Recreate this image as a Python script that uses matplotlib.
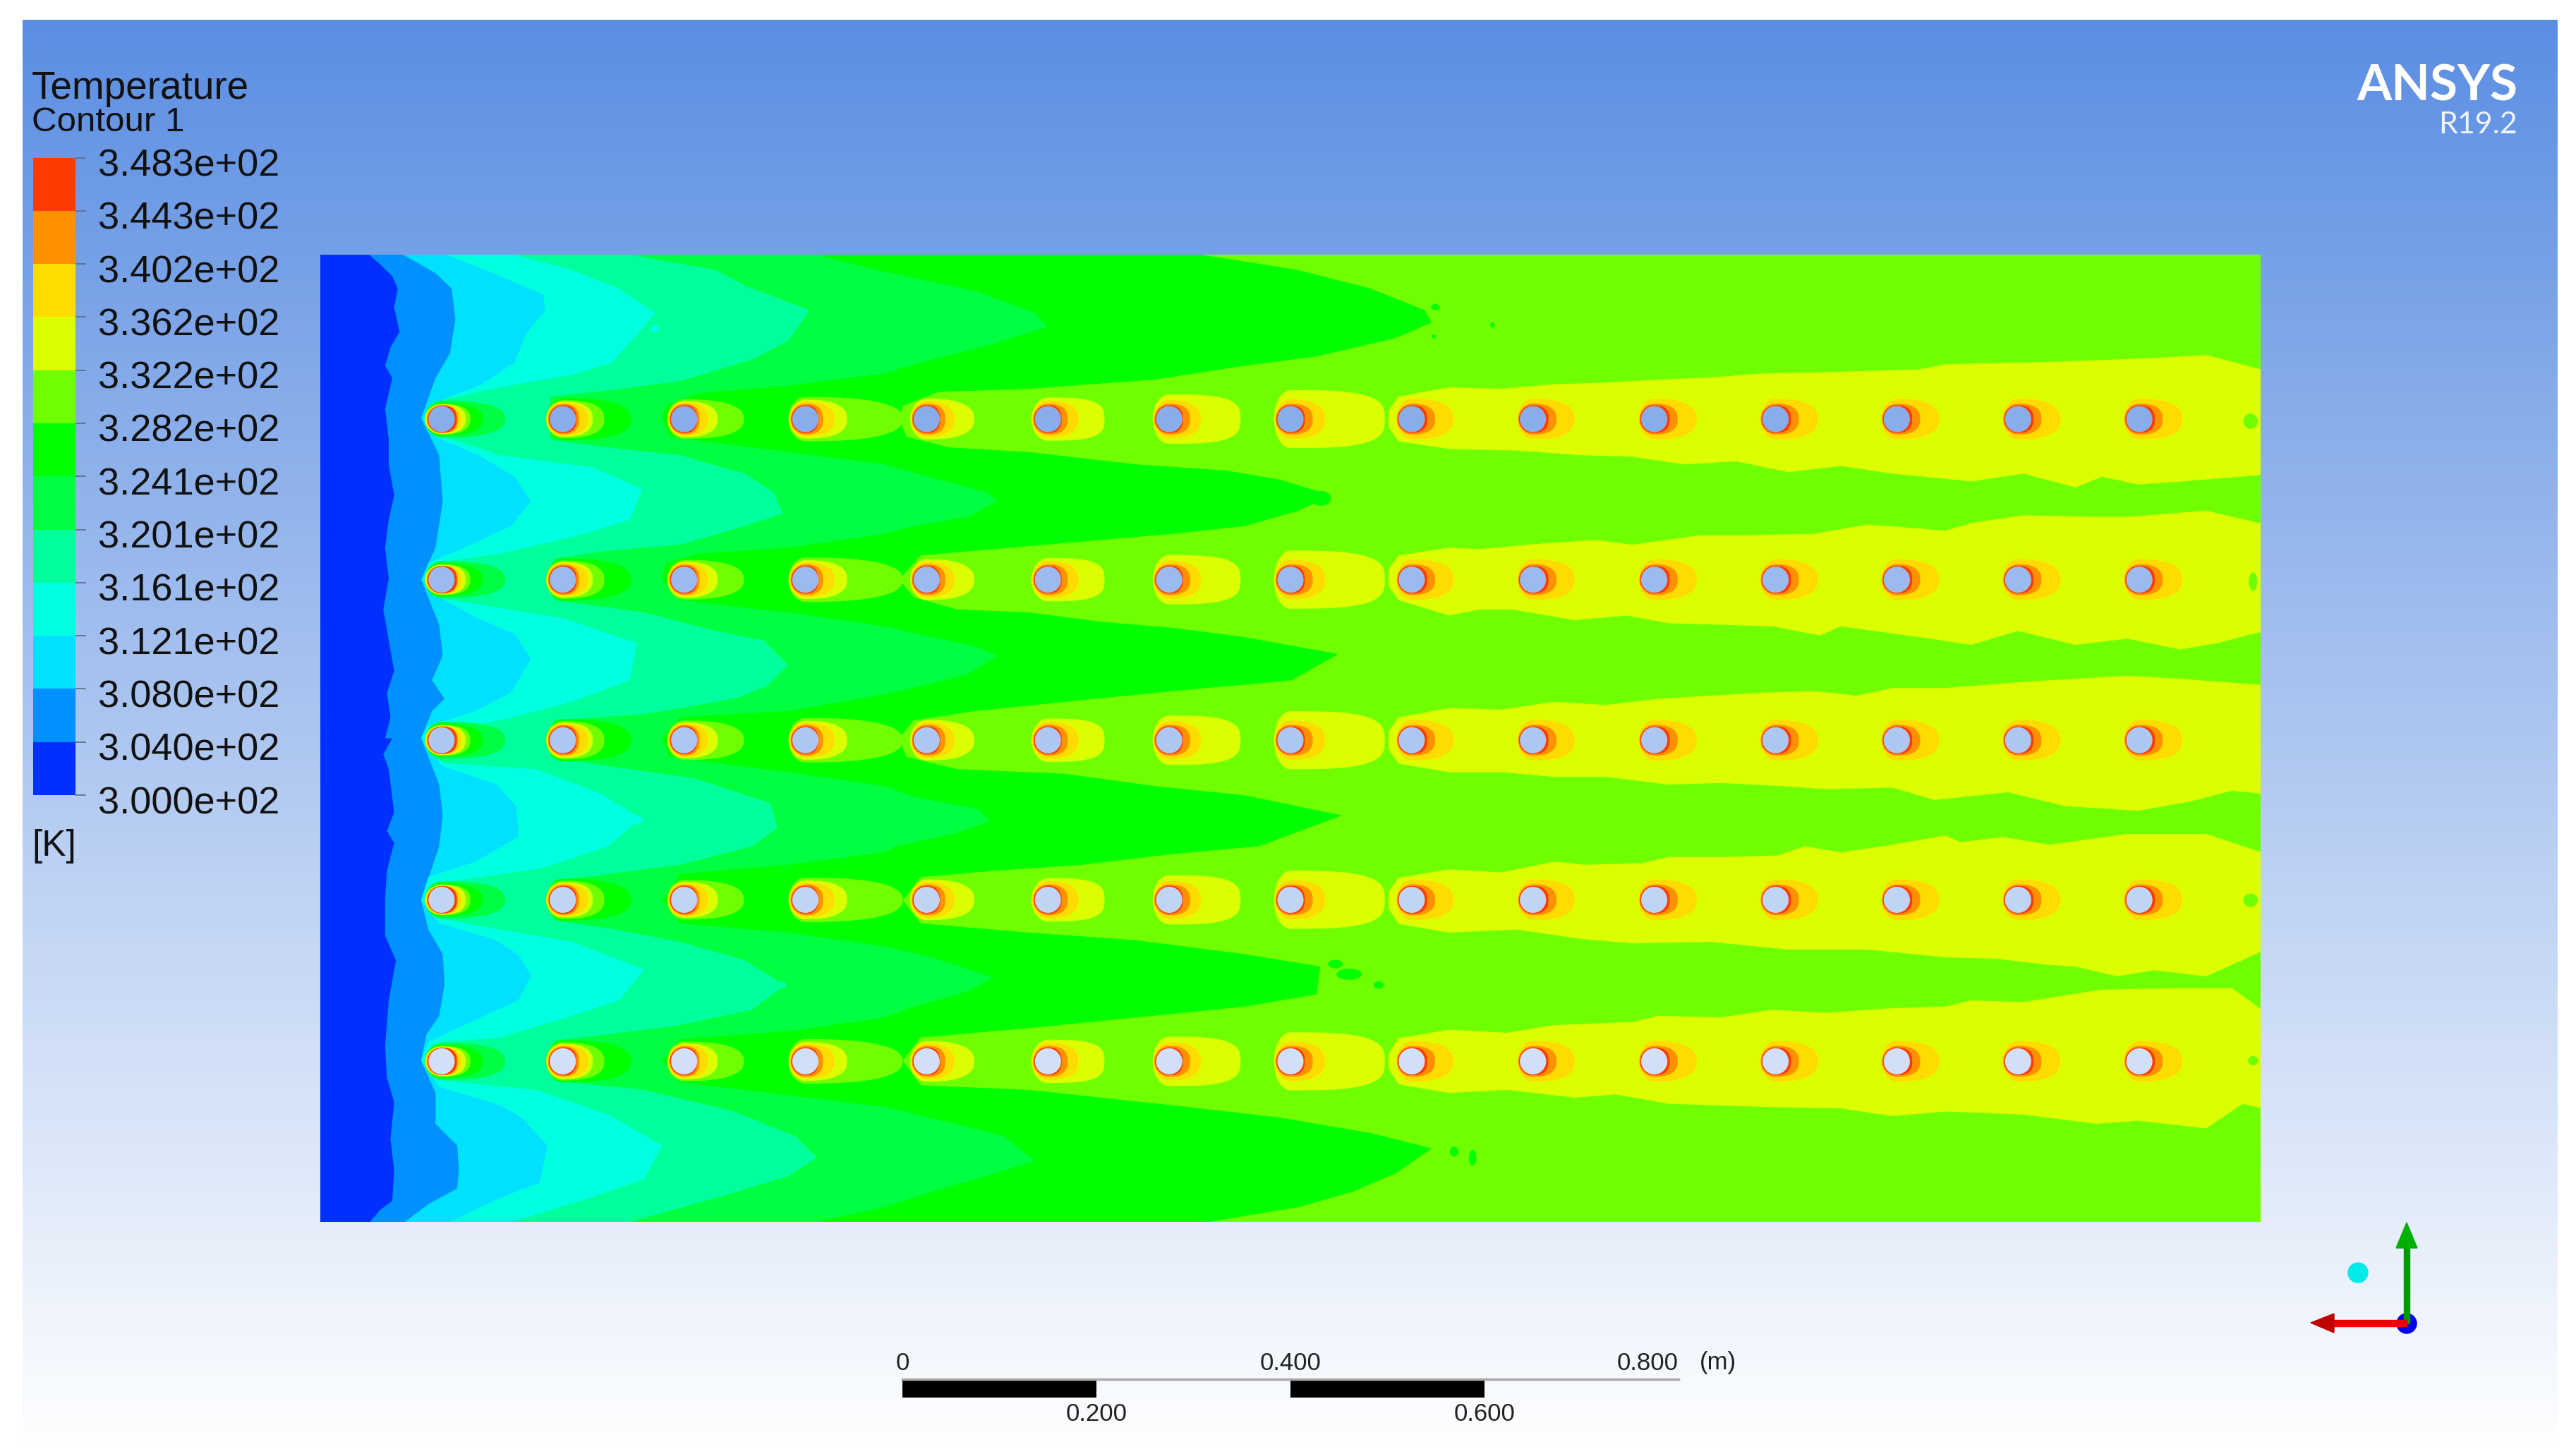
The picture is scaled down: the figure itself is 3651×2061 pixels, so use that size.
import numpy as np
import matplotlib
matplotlib.use("Agg")
import matplotlib.pyplot as plt
from matplotlib.colors import LinearSegmentedColormap
from matplotlib.patches import Circle, Polygon, Ellipse

plt.rcParams['font.family'] = ['Liberation Sans', 'DejaVu Sans']

# ---------- legend ----------
LEGEND_TITLE = "Temperature"
LEGEND_SUB = "Contour 1"
LEGEND_UNIT = "[K]"
LEVEL_LABELS = ["3.483e+02", "3.443e+02", "3.402e+02", "3.362e+02", "3.322e+02", "3.282e+02", "3.241e+02",
                "3.201e+02", "3.161e+02", "3.121e+02", "3.080e+02", "3.040e+02", "3.000e+02"]
BAND_COLORS = ['#0030ff', '#0090ff', '#00e0ff', '#00ffe0', '#00ff9c', '#00ff40',
               '#00ff00', '#70ff00', '#dcff00', '#ffdc00', '#ff9000', '#ff3c00']

# ---------- cylinder array (metres) ----------
CYL_X = [0.125, 0.25, 0.375, 0.5, 0.625, 0.75, 0.875, 1.0, 1.125, 1.25, 1.375, 1.5, 1.625, 1.75, 1.875]
CYL_Y = [0.830, 0.664, 0.498, 0.333, 0.166]
CYL_R = 0.0135
DOMAIN_W, DOMAIN_H = 2.0, 1.0

# ---------- band edges ----------
# x in read-off units (2695 per metre), y in read-off units from the top (3136 per metre)
E1_X = [135,165,200,215,205,220,195,180,200,180,190,190,205,190,180,190,175,190,205,185,195,180,200,175,190,205,185,205,185,180,180,210,190,180,185,205,195,205,200,165,138]
E1_Y = [0,30,70,110,170,250,300,360,400,500,600,680,780,860,950,1050,1150,1250,1350,1420,1500,1568,1568,1620,1668,1808,1868,1908,1998,2088,2208,2288,2418,2568,2668,2748,2868,2968,3068,3098,3136]
E2_X = [230,320,365,375,360,320,280,330,340,320,280,330,340,310,345,310,280,300,330,340,330,310,280,300,340,345,330,295,280,320,320,380,385,380,300,235]
E2_Y = [0,60,110,210,320,400,530,650,800,950,1053,1200,1300,1380,1440,1480,1568,1628,1718,1818,1918,1988,2093,2188,2268,2368,2468,2528,2613,2718,2818,2888,2968,3028,3078,3136]
E3_X = [350,480,620,625,570,540,450,340,285,320,440,540,585,530,400,300,285,330,440,540,585,530,430,300,280,340,490,545,550,430,300,280,330,480,550,585,550,400,300,280,330,500,560,630,610,500,360]
E3_Y = [0,60,130,180,260,350,420,470,530,590,650,720,800,880,950,1000,1053,1110,1180,1230,1310,1420,1480,1530,1568,1658,1718,1788,1888,1968,2018,2093,2168,2218,2268,2338,2418,2498,2553,2613,2698,2758,2798,2888,3008,3058,3136]
E4_X = [540,700,830,930,880,810,700,500,340,285,340,500,760,895,860,720,500,340,285,340,680,880,860,700,500,340,285,340,600,780,890,800,620,450,320,285,340,500,700,900,830,700,500,340,285,340,600,800,950,900,750,535]
E4_Y = [0,50,110,190,260,350,390,430,470,530,590,650,690,760,860,910,970,995,1053,1115,1180,1260,1380,1450,1510,1545,1568,1648,1668,1748,1828,1918,1988,2018,2038,2093,2153,2188,2228,2318,2418,2468,2538,2553,2613,2678,2708,2788,2888,2998,3058,3136]
E5_X = [860,1100,1180,1360,1300,1200,1000,800,640,630,640,800,1000,1180,1260,1285,1150,1000,800,650,630,650,900,1100,1230,1300,1240,1150,900,650,630,640,800,1040,1250,1270,1200,1000,800,650,630,650,820,1000,1180,1290,1200,1000,800,650,630,650,900,1150,1320,1380,1300,1100,860]
E5_Y = [0,50,100,180,280,340,410,440,460,530,600,625,650,710,770,840,890,940,960,985,1053,1120,1160,1220,1250,1330,1400,1440,1490,1510,1568,1628,1658,1698,1778,1858,1918,1978,2008,2028,2093,2158,2188,2228,2288,2368,2448,2498,2528,2548,2613,2678,2708,2778,2858,2928,2988,3058,3136]
E6_X = [1380,1568,1668,1828,1988,2018,1868,1668,1568,1300,1050,960,950,970,1200,1568,1660,1850,1880,1800,1650,1568,1300,1050,960,950,1000,1300,1568,1700,1820,1880,1800,1700,1568,1300,1000,950,970,1300,1568,1650,1830,1860,1760,1600,1568,1300,1000,950,1000,1300,1568,1700,1870,1800,1650,1568,1300,1000,950,1000,1568,1800,1900,1985,1850,1700,1568,1380]
E6_Y = [0,55,80,120,190,235,290,350,385,425,450,490,530,590,625,680,710,770,800,850,880,905,950,970,1000,1053,1120,1160,1205,1240,1270,1300,1360,1390,1425,1480,1500,1568,1628,1678,1723,1758,1798,1838,1878,1918,1938,1978,2008,2093,2168,2198,2243,2278,2343,2388,2438,2473,2518,2543,2613,2683,2763,2828,2858,2938,2988,3038,3088,3136]
E7_X = [2448,2718,2918,3068,3088,2988,2768,2568,2318,1968,1718,1618,1608,1628,1748,1968,2268,2518,2668,2808,2718,2568,2368,2068,1868,1668,1608,1648,1768,1968,2168,2368,2568,2828,2698,2368,2068,1818,1648,1608,1628,1768,2068,2318,2568,2838,2608,2368,2118,1868,1668,1618,1668,1968,2268,2568,2778,2768,2568,2268,1968,1668,1618,1668,1968,2368,2668,2918,3088,2988,2868,2718,2468]
E7_Y = [0,50,110,180,220,270,330,360,405,435,445,490,530,590,625,640,680,700,730,780,830,880,905,935,955,975,1053,1110,1150,1160,1190,1210,1240,1295,1380,1415,1450,1480,1510,1568,1628,1668,1683,1723,1753,1818,1918,1943,1978,1998,2018,2093,2168,2198,2223,2268,2308,2398,2438,2473,2508,2538,2613,2693,2708,2758,2798,2848,2898,2978,3038,3088,3136]
BAND_EDGES = [(E1_X, E1_Y), (E2_X, E2_Y), (E3_X, E3_Y), (E4_X, E4_Y), (E5_X, E5_Y), (E6_X, E6_Y), (E7_X, E7_Y)]

# warm wake stripes behind the last cylinders: x stations with upper and lower edge
S1_TOP_X = [2968,2995,3136,3281,3426,3571,3716,3861,4006,4152,4441,4514,4731,4876,5094,5239,5384,5394]
S1_TOP_Y = [505,460,430,435,420,415,405,398,385,382,372,355,350,345,335,325,370,370]
S1_BOT_X = [2968,2995,3136,3324,3498,3644,3788,3934,4078,4224,4368,4586,4731,4876,4949,5050,5175,5384,5394]
S1_BOT_Y = [560,605,630,635,650,655,680,670,705,685,710,735,710,755,720,745,735,715,710]
S2_TOP_X = [2968,2995,3136,3223,3353,3542,3644,3832,3948,4151,4296,4412,4514,4586,4731,4948,5020,5239,5384,5394]
S2_TOP_Y = [1020,975,950,955,940,925,940,910,910,905,875,885,895,870,845,850,850,830,870,870]
S2_BOT_X = [2968,2995,3136,3223,3310,3484,3629,3745,3890,4035,4166,4224,4441,4586,4716,4876,5020,5166,5268,5384,5394]
S2_BOT_Y = [1075,1120,1170,1150,1150,1185,1170,1195,1200,1205,1235,1205,1240,1265,1220,1265,1245,1280,1260,1225,1225]
S3_TOP_X = [2968,2995,3136,3281,3426,3571,3716,3861,4006,4152,4267,4368,4514,4731,4876,5020,5166,5394]
S3_TOP_Y = [1545,1500,1470,1475,1450,1460,1440,1430,1420,1415,1430,1405,1405,1385,1375,1365,1375,1395]
S3_BOT_X = [2968,2995,3136,3281,3426,3571,3745,3890,4064,4180,4368,4484,4688,4847,5050,5195,5310,5394]
S3_BOT_Y = [1605,1650,1678,1678,1693,1693,1718,1713,1723,1733,1728,1768,1743,1788,1803,1773,1738,1748]
S4_TOP_X = [2968,2995,3136,3281,3426,3513,3672,3745,3904,4050,4122,4224,4368,4514,4557,4673,4804,5020,5239,5394]
S4_TOP_Y = [2065,2020,1993,2003,1968,1978,1973,1953,1953,1948,1918,1938,1913,1883,1905,1888,1913,1878,1878,1938]
S4_BOT_X = [2968,2995,3136,3324,3498,3644,3861,4078,4296,4514,4658,4804,4876,4992,5094,5239,5394]
S4_BOT_Y = [2120,2170,2198,2188,2218,2233,2228,2253,2253,2278,2283,2303,2308,2340,2320,2340,2258]
S5_TOP_X = [2968,2995,3136,3296,3426,3644,3716,3890,4035,4180,4368,4514,4586,4731,4948,5166,5310,5394]
S5_TOP_Y = [2590,2540,2513,2523,2498,2488,2468,2473,2448,2458,2443,2438,2418,2423,2383,2378,2378,2448]
S5_BOT_X = [2968,2995,3136,3296,3484,3600,3745,4006,4224,4368,4514,4731,4934,5050,5239,5340,5394]
S5_BOT_Y = [2640,2690,2718,2708,2733,2723,2753,2763,2768,2793,2778,2788,2818,2808,2833,2753,2768]
STRIPES = [(S1_TOP_X, S1_TOP_Y, S1_BOT_X, S1_BOT_Y), (S2_TOP_X, S2_TOP_Y, S2_BOT_X, S2_BOT_Y),
           (S3_TOP_X, S3_TOP_Y, S3_BOT_X, S3_BOT_Y), (S4_TOP_X, S4_TOP_Y, S4_BOT_X, S4_BOT_Y),
           (S5_TOP_X, S5_TOP_Y, S5_BOT_X, S5_BOT_Y)]

# small detached patches seen near band edges (read-off units)
ISL_X = [3098, 3093, 2858, 2940, 3150, 3201, 3256, 5362, 5369, 5362, 5369, 2948, 930, 880, 1215, 1280, 2780, 2820]
ISL_Y = [170, 265, 2333, 2368, 2908, 2928, 228, 540, 1060, 2093, 2613, 1050, 240, 1833, 2398, 2368, 790, 2300]
ISL_RX = [12, 6, 35, 14, 12, 10, 6, 20, 12, 20, 14, 14, 12, 15, 20, 15, 28, 20]
ISL_RY = [10, 6, 18, 12, 16, 26, 9, 25, 30, 22, 15, 40, 12, 15, 20, 12, 24, 14]
ISL_BAND = [6, 6, 6, 6, 6, 6, 6, 7, 7, 7, 7, 7, 3, 3, 4, 4, 6, 6]

# hot zone behind each cylinder: reach downstream and half height per band (read-off units)
HALO_BAND = [5, 6, 7, 8, 9, 10, 11]
HALO_LEFT = [46, 45, 47, 46, 43, 41, 39]
HALO_REACH = [
    [177, 114, 80, 67, 54, 45, 42],
    [0, 190, 115, 83, 70, 45, 38],
    [0, 0, 166, 93, 66, 43, 36],
    [0, 0, 270, 116, 81, 49, 36],
    [0, 0, 0, 132, 77, 52, 37],
    [0, 0, 0, 157, 85, 55, 38],
    [0, 0, 0, 198, 88, 58, 38],
    [0, 0, 0, 262, 97, 62, 40],
    [0, 0, 0, 0, 116, 65, 43],
    [0, 0, 0, 0, 116, 65, 43],
    [0, 0, 0, 0, 118, 65, 43],
    [0, 0, 0, 0, 118, 65, 43],
    [0, 0, 0, 0, 118, 65, 43],
    [0, 0, 0, 0, 118, 65, 43],
    [0, 0, 0, 0, 120, 65, 43],
]
HALO_HALF = [
    [60, 53, 50, 48, 46, 45, 44],
    [0, 68, 62, 57, 53, 49, 45],
    [0, 0, 64, 58, 54, 49, 45],
    [0, 0, 72, 63, 56, 50, 45],
    [0, 0, 0, 66, 58, 50, 45],
    [0, 0, 0, 70, 60, 50, 45],
    [0, 0, 0, 80, 62, 50, 45],
    [0, 0, 0, 94, 64, 50, 45],
    [0, 0, 0, 0, 66, 50, 45],
    [0, 0, 0, 0, 66, 50, 45],
    [0, 0, 0, 0, 66, 50, 45],
    [0, 0, 0, 0, 66, 50, 45],
    [0, 0, 0, 0, 66, 50, 45],
    [0, 0, 0, 0, 66, 50, 45],
    [0, 0, 0, 0, 66, 50, 45],
]

# scale bar
SCALE_TOP = ["0", "0.400", "0.800"]
SCALE_TOP_AT = [0.0, 0.4, 0.8]
SCALE_TOP_HA = ['center', 'center', 'right']
SCALE_BOT = ["0.200", "0.600"]
SCALE_BOT_AT = [0.2, 0.6]

# ---------- figure ----------
W, H = 3651, 2061
fig = plt.figure(figsize=(W / 100, H / 100), dpi=100, facecolor='white')

def box(x0, y0, x1, y1):
    return [x0 / W, 1 - y1 / H, (x1 - x0) / W, (y1 - y0) / H]

bg = fig.add_axes([0, 0, 1, 1])
bg.set_xlim(0, W); bg.set_ylim(H, 0); bg.axis('off')
bg_cmap = LinearSegmentedColormap.from_list('bg', ['#5b8ee2', '#ffffff'])
bg.imshow(np.linspace(0, 1, 512)[:, None], cmap=bg_cmap, extent=[32, 3625, 2061, 28], aspect='auto', zorder=0)
bg.set_xlim(0, W); bg.set_ylim(H, 0)

def text_(x, y, s, **kw):
    kw.setdefault('va', 'center'); kw.setdefault('ha', 'left'); kw.setdefault('color', '#111111')
    bg.text(x, y, s, **kw)

text_(45, 126, LEGEND_TITLE, fontsize=39.5)
text_(45, 173, LEGEND_SUB, fontsize=35.5)
text_(45, 1200, LEGEND_UNIT, fontsize=37)

# colour bar
cax = fig.add_axes(box(46.5, 223.5, 107, 1127))
cax.pcolormesh([0, 1], np.arange(len(BAND_COLORS) + 1), np.arange(len(BAND_COLORS))[:, None],
               cmap=matplotlib.colors.ListedColormap(BAND_COLORS), shading='flat')
cax.set_xlim(0, 1); cax.set_ylim(0, len(BAND_COLORS)); cax.axis('off')
bar_px = np.linspace(1127, 223.5, len(LEVEL_LABELS))
for lab, yp in zip(LEVEL_LABELS[::-1], bar_px):
    bg.plot([107, 121], [yp, yp], color='#5a6c88', lw=1.2, zorder=2)
    text_(139, yp + 12, lab, fontsize=39)

# contour field
ax = fig.add_axes(box(454, 361, 3204, 1732))
ax.set_xlim(0, DOMAIN_W); ax.set_ylim(0, DOMAIN_H); ax.axis('off')
UX, UY = 2695.0, 3136.0

def mx(v):
    return np.asarray(v, float) / UX

def my(v):
    return 1 - np.asarray(v, float) / UY

ax.fill([0, DOMAIN_W, DOMAIN_W, 0], [0, 0, DOMAIN_H, DOMAIN_H], color=BAND_COLORS[0], lw=0)
for i, (ex, ey) in enumerate(BAND_EDGES):
    x, y = mx(ex), my(ey)
    ax.fill(np.r_[x, DOMAIN_W, DOMAIN_W], np.r_[y, y[-1], y[0]], color=BAND_COLORS[i + 1], lw=0, zorder=2 + i)
for tx, ty, bx, by in STRIPES:
    ax.fill(np.r_[mx(tx), mx(bx)[::-1]], np.r_[my(ty), my(by)[::-1]], color=BAND_COLORS[8], lw=0, zorder=10)
for ix, iy, rx, ry, band in zip(ISL_X, ISL_Y, ISL_RX, ISL_RY, ISL_BAND):
    ax.add_patch(Ellipse((ix / UX, 1 - iy / UY), 2 * rx / UX, 2 * ry / UY, color=BAND_COLORS[band], lw=0, zorder=15))

t = np.linspace(-np.pi, np.pi, 241)

def comet(cx, cy, left, right, half, n):
    c, s = np.cos(t), np.sin(t)
    e = np.where(c > 0, 2 / n, 1.0)
    px = np.abs(c) ** e * np.sign(c)
    py = np.abs(s) ** e * np.sign(s)
    px = np.where(px > 0, px * right, px * left)
    return cx + px / UX, cy + py * half / UY

def bg_colour(y):
    py = 1732 - y * 1371
    return bg_cmap((py - 28) / (2061 - 28))

for cy in CYL_Y:
    for j, cx in enumerate(CYL_X):
        for k, band in enumerate(HALO_BAND):
            if HALO_REACH[j][k] == 0:
                continue
            n = 3.2 if (band == 8 and j >= 5) else 2.5
            hx, hy = comet(cx, cy, HALO_LEFT[k], HALO_REACH[j][k], HALO_HALF[j][k], n)
            ax.fill(hx, hy, color=BAND_COLORS[band], lw=0, zorder=20 + k)
        ax.add_patch(Circle((cx, cy), CYL_R, facecolor=bg_colour(cy), edgecolor='none', zorder=30))

# scale bar
sb = fig.add_axes(box(1279, 1955, 2379, 1981))
sb.set_xlim(0, 0.8); sb.set_ylim(0, 1); sb.axis('off')
sb.bar([0.0, 0.4], [1, 1], width=0.2, align='edge', color='black', lw=0)
sb.plot([0, 0.8], [1, 1], color='#a8a8a8', lw=2.5, clip_on=False, zorder=1)
for v, lab, ha in zip(SCALE_TOP_AT, SCALE_TOP, SCALE_TOP_HA):
    sb.text(v, 1.88, lab, ha=ha, va='center', fontsize=25, color='#222222', clip_on=False)
for v, lab in zip(SCALE_BOT_AT, SCALE_BOT):
    sb.text(v, -0.92, lab, ha='center', va='center', fontsize=25, color='#222222', clip_on=False)
text_(2435, 1932, "(m)", fontsize=25, ha='center', color='#222222')

# logo
text_(3568, 122, "ANSYS", fontsize=51, ha='right', color='white', family='Lato', weight='bold')
text_(3568, 177, "R19.2", fontsize=31, ha='right', color='#eef3fd', family='Lato')

# triad
bg.add_patch(Circle((3342, 1804), 14, color='#00eaea', zorder=3))
bg.add_patch(Circle((3411, 1876), 14, color='#0000f0', zorder=3))
bg.add_patch(Polygon([[3407, 1876], [3415, 1876], [3415, 1768], [3407, 1768]], color='#009a00', zorder=4))
bg.add_patch(Polygon([[3411, 1733], [3396, 1769], [3426, 1769]], color='#00b000', zorder=4))
bg.add_patch(Polygon([[3411, 1871], [3411, 1880], [3306, 1880], [3306, 1871]], color='#f00000', zorder=4))
bg.add_patch(Polygon([[3275, 1875], [3308, 1862], [3308, 1889]], color='#c00000', zorder=4))

fig.savefig('out.png', dpi=100, facecolor='white')
